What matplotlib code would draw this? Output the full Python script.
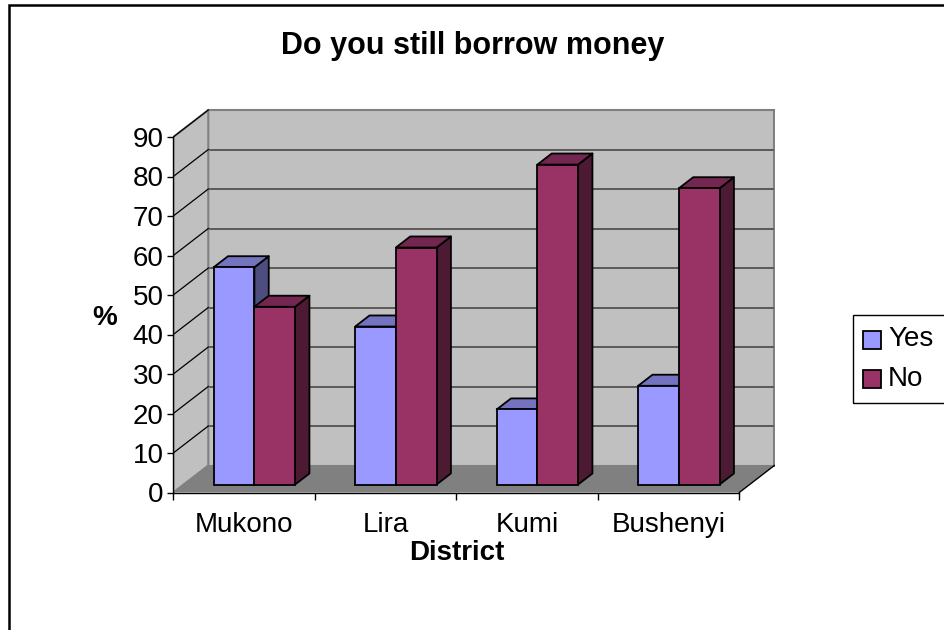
import matplotlib
matplotlib.use("Agg")
import matplotlib.pyplot as plt
from matplotlib.patches import Polygon, Rectangle

plt.rcParams['font.family'] = ['Liberation Sans', 'DejaVu Sans']

# survey answers per district (percent)
districts = ['Mukono', 'Lira', 'Kumi', 'Bushenyi']
yes_pct = [55, 40, 19, 25]
no_pct = [45, 60, 81, 75]
series_names = ['Yes', 'No']
y_ticks = [0, 10, 20, 30, 40, 50, 60, 70, 80, 90]
y_max = 90

W, H = 945, 630
fig = plt.figure(figsize=(W / 100, H / 100), dpi=100)


def fx(px):
    return px / W


def fy(py):
    return (H - py) / H


# pixel layout of the plot box
x_front, cat_px = 173.3, 141.5
y_zero, unit_px = 492.5, 3.95
x_right, y_top = 775.0, 105.0

ax = fig.add_axes([fx(x_front), fy(y_zero), fx(x_right - x_front),
                   (y_zero - y_top) / H])
ax.set_xlim(-0.5, -0.5 + (x_right - x_front) / cat_px)
ax.set_ylim(0, (y_zero - y_top) / unit_px)
ax.set_facecolor('none')
for s in ax.spines.values():
    s.set_visible(False)

n = len(districts)
DX = 35 / cat_px          # depth offset of back wall, category units
DY = 27 / unit_px         # depth offset of back wall, value units
left, right = -0.5, n - 0.5

wall = '#C0C0C0'
edge_grey = '#808080'

# back wall
ax.add_patch(Polygon([(left + DX, DY), (right + DX, DY),
                      (right + DX, DY + y_max), (left + DX, DY + y_max)],
                     closed=True, fc=wall, ec=edge_grey, lw=1.5, zorder=1))
for t in y_ticks[1:-1]:
    ax.plot([left + DX, right + DX], [t + DY, t + DY], color='#5a5a5a',
            lw=1.4, zorder=2, solid_capstyle='butt')

# side wall
ax.add_patch(Polygon([(left, 0), (left + DX, DY), (left + DX, DY + y_max),
                      (left, y_max)], closed=True, fc=wall, ec=edge_grey,
                     lw=1.5, zorder=3))
for t in y_ticks[1:]:
    ax.plot([left, left + DX], [t, t + DY], color='black', lw=0.9, zorder=4)

# floor
ax.add_patch(Polygon([(left, 0), (right, 0), (right + DX, DY),
                      (left + DX, DY)], closed=True, fc='#808080',
                     ec='none', zorder=3))
ax.plot([right, right + DX], [0, DY], color='black', lw=1.0, zorder=4)

# bars
bar_w = 40.7 / cat_px
d0 = 0.295                 # depth where the bar fronts sit
bdx, bdy = 0.41 * DX, 0.41 * DY
face = {'Yes': ('#9999FF', '#7373BF', '#4D4D80'),
        'No': ('#993366', '#732650', '#4D1A33')}
values = {'Yes': yes_pct, 'No': no_pct}
z = 10
for i in range(n):
    for j, name in enumerate(series_names):
        v = values[name][i]
        x0 = i - bar_w + j * bar_w + d0 * DX
        y0 = d0 * DY
        front, top, side = face[name]
        ax.add_patch(Polygon([(x0 + bar_w, y0), (x0 + bar_w + bdx, y0 + bdy),
                              (x0 + bar_w + bdx, y0 + v + bdy),
                              (x0 + bar_w, y0 + v)], closed=True, fc=side,
                             ec='black', lw=1.3, joinstyle='round', zorder=z))
        ax.add_patch(Polygon([(x0, y0 + v), (x0 + bar_w, y0 + v),
                              (x0 + bar_w + bdx, y0 + v + bdy),
                              (x0 + bdx, y0 + v + bdy)], closed=True, fc=top,
                             ec='black', lw=1.3, joinstyle='round', zorder=z))
        ax.bar(x0, v, width=bar_w, bottom=y0, align='edge', color=front,
               edgecolor='black', linewidth=1.3, zorder=z + 1)
        z += 2

# front axes lines
ax.plot([left, left], [0, y_max], color='black', lw=1.0, zorder=50,
        clip_on=False)
ax.plot([left, right], [0, 0], color='black', lw=1.0, zorder=50,
        clip_on=False)

ax.set_yticks(y_ticks)
ax.set_yticklabels([str(t) for t in y_ticks], fontsize=20)
ax.tick_params(axis='y', length=4, width=1, direction='out', pad=3)
ax.set_xticks([k - 0.5 for k in range(n + 1)])
ax.set_xticklabels([])
ax.tick_params(axis='x', which='major', length=5, width=1, direction='out')
ax.set_xticks(range(n), minor=True)
ax.set_xticklabels(districts, minor=True, fontsize=20)
ax.tick_params(axis='x', which='minor', length=0, pad=14)

# titles
fig.text(fx(472.5), fy(46), 'Do you still borrow money', fontsize=22,
         fontweight='bold', ha='center', va='center')
fig.text(fx(105), fy(318), '%', fontsize=20, fontweight='bold',
         ha='center', va='center')
fig.text(fx(457), fy(553), 'District', fontsize=20, fontweight='bold',
         ha='center', va='center')

# legend
fig.patches.append(Rectangle((fx(853), fy(403)), fx(200), (403 - 315) / H,
                             transform=fig.transFigure, fill=False,
                             ec='black', lw=1.0))
for k, name in enumerate(series_names):
    yc = 339.5 + k * 39
    fig.patches.append(Rectangle((fx(863), fy(yc + 9)), fx(18), 18 / H,
                                 transform=fig.transFigure,
                                 fc=face[name][0], ec='black', lw=1.3))
    fig.text(fx(888), fy(yc), name, fontsize=20, ha='left', va='center')

# chart area border
fig.patches.append(Rectangle((fx(9.5), -0.2), 1.2, fy(5) + 0.2,
                             transform=fig.transFigure, fill=False,
                             ec='black', lw=1.8))

fig.savefig('out.png', dpi=100, facecolor='white')
